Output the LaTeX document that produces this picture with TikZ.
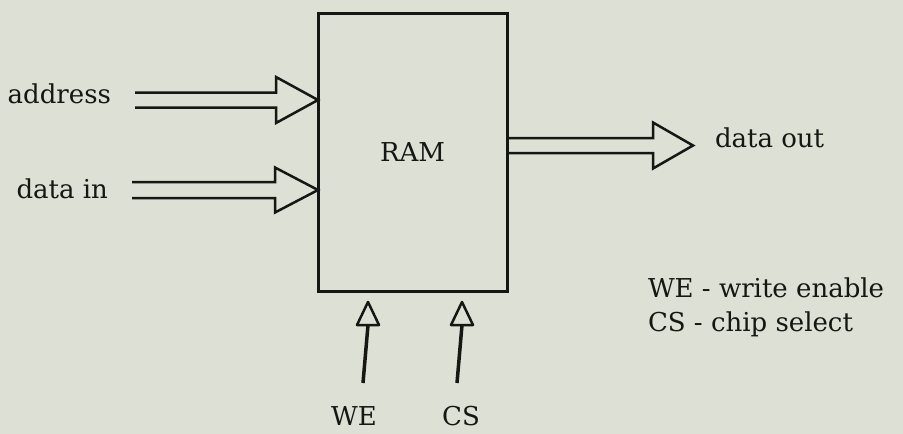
\documentclass[tikz,border=0pt]{standalone}
\usepackage{fontspec}
\setmainfont{DejaVu Serif}
\usetikzlibrary{calc}
\definecolor{paper}{RGB}{221,224,212}
\definecolor{ink}{RGB}{22,22,20}
\newcommand\hbus[5]{% tail, tip, half line gap, head depth, half head
  \draw[busline] ($(#1)+(0,-#3)$) -- ($(#2)+(-#4,-#3)$) -- ($(#2)+(-#4,-#5)$) -- (#2)
    -- ($(#2)+(-#4,#5)$) -- ($(#2)+(-#4,#3)$) -- ($(#1)+(0,#3)$);}
\begin{document}
\begin{tikzpicture}[x=1pt,y=-1pt,
  lbl/.style={inner sep=0pt,outer sep=0pt,font=\fontsize{26}{30}\selectfont,text=ink},
  ramstyle/.style={draw=ink,line width=3pt,minimum width=189pt,minimum height=278pt,
    inner sep=0pt,outer sep=0pt,font=\fontsize{26}{30}\selectfont,text=ink},
  busline/.style={draw=ink,line width=2.5pt},
  headline/.style={draw=ink,line width=2.5pt,line join=round},
  shaftline/.style={draw=ink,line width=3.5pt}]
\fill[paper] (0,0) rectangle (903,434);
\useasboundingbox (0,0) rectangle (903,434);

\node[ramstyle] (ram) at (412.5,152) {RAM};

\node[lbl,anchor=base east] (addr) at (111,103) {address};
\node[lbl,anchor=base east] (din) at (108,198) {data in};
\node[lbl,anchor=base west] (dout) at (715,147) {data out};
\node[lbl,anchor=base] (we) at (354,425) {WE};
\node[lbl,anchor=base] (cs) at (461,425) {CS};
\node[lbl,anchor=base west] (leg1) at (648,297) {WE - write enable};
\node[lbl,anchor=base west] (leg2) at (648,331) {CS - chip select};

% bus arrows
\coordinate (addrtail) at (135,100);
\coordinate (addrtip) at (ram.west |- addrtail);
\coordinate (dintail) at (132,190);
\coordinate (dintip) at (ram.west |- dintail);
\coordinate (douttail) at (ram.east |- 0,145.5);
\coordinate (douttip) at (693,145.5);
\hbus{addrtail}{addrtip}{7.5}{42}{23}
\hbus{dintail}{dintip}{8}{43}{22.5}
\hbus{douttail}{douttip}{7.5}{40}{23}

% control arrows
\coordinate (wetip) at (368,302);
\coordinate (webase) at (368,325);
\coordinate (weend) at (363,383);
\coordinate (cstip) at (462,302);
\coordinate (csbase) at (462,325);
\coordinate (csend) at (457,383);
\draw[shaftline] (weend) -- (webase);
\draw[headline] (wetip) -- ($(webase)+(-11,0)$) -- ($(webase)+(11,0)$) -- cycle;
\draw[shaftline] (csend) -- (csbase);
\draw[headline] (cstip) -- ($(csbase)+(-11,0)$) -- ($(csbase)+(11,0)$) -- cycle;
\end{tikzpicture}
\end{document}
